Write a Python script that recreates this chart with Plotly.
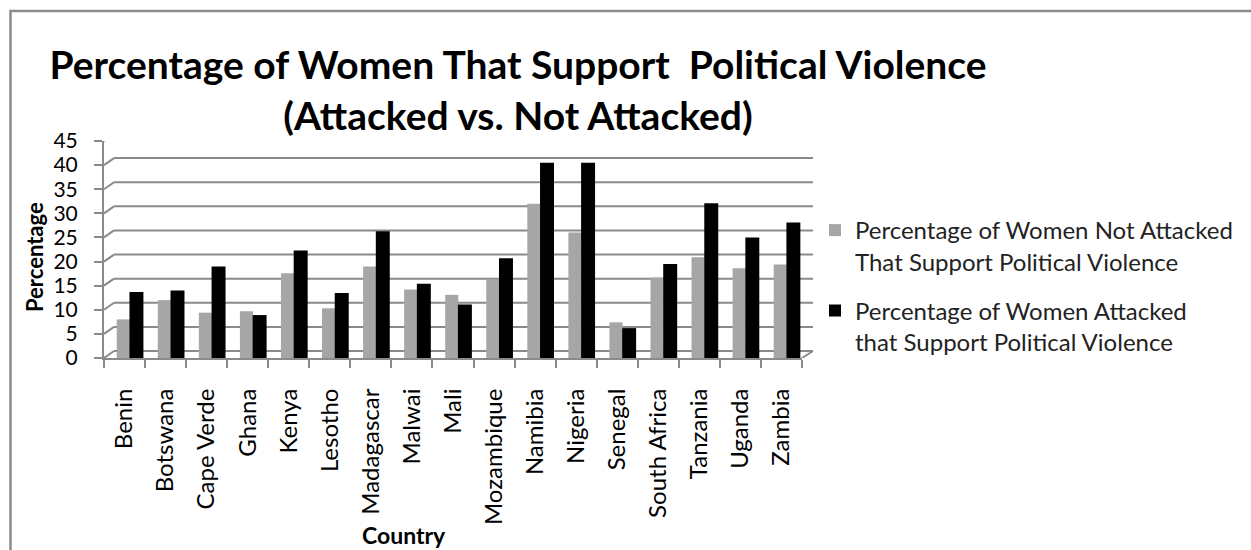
import plotly.graph_objects as go

countries = ["Benin", "Botswana", "Cape Verde", "Ghana", "Kenya", "Lesotho", "Madagascar",
             "Malwai", "Mali", "Mozambique", "Namibia", "Nigeria", "Senegal", "South Africa",
             "Tanzania", "Uganda", "Zambia"]
not_attacked = [8.0, 12.0, 9.4, 9.7, 17.6, 10.3, 19.0, 14.2, 13.1, 16.3, 32.0, 26.0, 7.4, 16.7, 20.9, 18.6, 19.4]
attacked = [13.7, 14.0, 19.0, 8.9, 22.3, 13.5, 26.3, 15.4, 11.1, 20.7, 40.5, 40.5, 6.2, 19.5, 32.1, 25.0, 28.1]
yticks = [0, 5, 10, 15, 20, 25, 30, 35, 40, 45]
name_na = "Percentage of Women Not Attacked<br>That Support Political Violence"
name_a = "Percentage of Women Attacked<br>that Support Political Violence"

FONT = "Lato"
GRID = "#8a8a8a"
W_PX = 698.0
DX, DY, DXR = 10, 7, 11

fig = go.Figure()
fig.add_trace(go.Bar(x=countries, y=not_attacked, name=name_na, marker_color="#a6a6a6",
                     width=0.32, offset=-0.19, marker_line_width=0, legendgroup="na"))
fig.add_trace(go.Bar(x=countries, y=attacked, name=name_a, marker_color="#000000",
                     width=0.34, offset=0.12, marker_line_width=0, legendgroup="a"))

shapes = []
for v in yticks:
    shapes.append(dict(type="line", xref="x domain", yref="y", ysizemode="pixel", yanchor=v,
                       x0=DX / W_PX, x1=1 + DXR / W_PX, y0=DY, y1=DY,
                       line=dict(color=GRID, width=2), layer="below"))
    shapes.append(dict(type="line", xref="x domain", yref="y", ysizemode="pixel", yanchor=v,
                       x0=0, x1=DX / W_PX, y0=0, y1=DY,
                       line=dict(color=GRID, width=2), layer="below"))
# right floor edge
shapes.append(dict(type="line", xref="x domain", yref="y", ysizemode="pixel", yanchor=0,
                   x0=1, x1=1 + DXR / W_PX, y0=0, y1=DY,
                   line=dict(color=GRID, width=2), layer="below"))
# outer chart frame
shapes.append(dict(type="rect", xref="paper", yref="paper",
                   x0=(10.5 - 104) / W_PX, x1=1.8, y0=-1.2, y1=(358 - 11) / 217.0,
                   line=dict(color="#8c8c8c", width=2.5), fillcolor="rgba(0,0,0,0)", layer="below"))

fig.update_layout(
    width=1251, height=550,
    margin=dict(l=104, r=449, t=141, b=192, autoexpand=False),
    paper_bgcolor="white", plot_bgcolor="rgba(0,0,0,0)",
    barmode="overlay",
    font=dict(family=FONT, color="black"),
    title=dict(text="<b>Percentage of Women That Support  Political Violence<br>(Attacked vs. Not Attacked)</b>",
               x=518 / 1251, xanchor="center", xref="container",
               y=1 - 79 / 550, yanchor="top", yref="container",
               font=dict(family=FONT, size=39, color="black")),
    xaxis=dict(showgrid=False, showline=True, linecolor=GRID, linewidth=2,
               ticks="outside", ticklen=8, tickcolor=GRID, tickwidth=2, tickson="boundaries",
               tickangle=-90, tickfont=dict(size=24, family=FONT, color="black"),
               ticklabelstandoff=19, automargin=False, range=[-0.5, len(countries) - 0.5]),
    yaxis=dict(range=[0, 45], tickvals=yticks, showgrid=False, zeroline=False,
               showline=True, linecolor=GRID, linewidth=2,
               ticks="outside", ticklen=8, tickcolor=GRID, tickwidth=2,
               tickfont=dict(size=21, family=FONT, color="black"),
               ticklabelstandoff=12, automargin=False),
    legend=dict(x=(815 - 104) / W_PX, xanchor="left", y=(358 - 208) / 217.0, yanchor="top",
                font=dict(size=24, family=FONT, color="#222222"), valign="top",
                tracegroupgap=15, itemwidth=30, bgcolor="rgba(0,0,0,0)", traceorder="grouped"),
    shapes=shapes,
    annotations=[
        dict(text="<b>Country</b>", xref="paper", yref="paper", x=(404 - 104) / W_PX, y=(358 - 535) / 217.0,
             xanchor="center", yanchor="middle", showarrow=False, font=dict(size=23, family=FONT)),
        dict(text="<b>Percentage</b>", xref="paper", yref="paper", x=(34 - 104) / W_PX, y=(358 - 257) / 217.0,
             xanchor="center", yanchor="middle", textangle=-90, showarrow=False, font=dict(size=22, family=FONT)),
    ],
)

fig.write_html("out.html")
